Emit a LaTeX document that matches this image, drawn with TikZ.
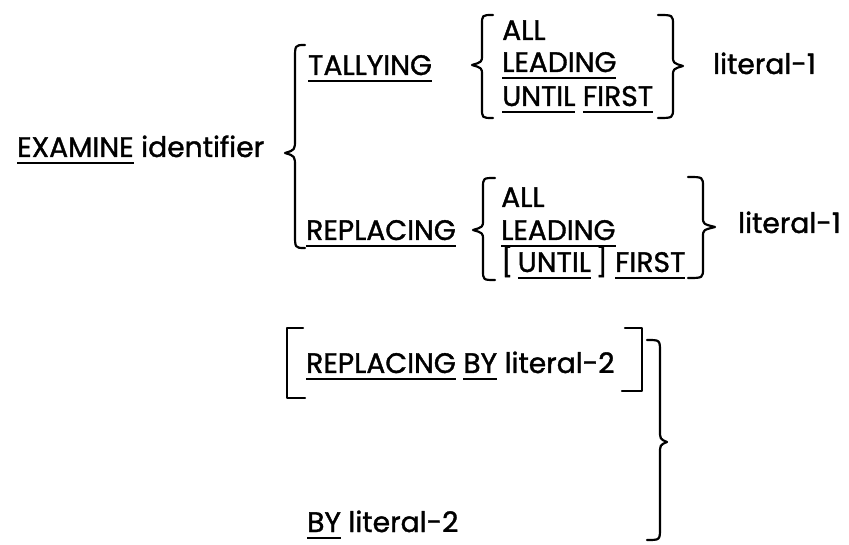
\documentclass[tikz,border=0pt]{standalone}
\usepackage{fontspec}
\setmainfont{Poppins}[FakeBold=1.3]
\newcommand\ulw[1]{\vtop{\hbox{#1}\kern5.2pt\hrule height 1.9pt}}
\tikzset{
  txt/.style={anchor=base west, inner sep=0pt, font=\fontsize{28.2}{32}\selectfont},
  brc/.style={line width=2.2pt, line cap=round, line join=round},
}
% #1 end x, #2 spine x, #3 tip x, #4 top y, #5 middle y, #6 bottom y, #7 bend
\newcommand\mybrace[7]{%
  \draw[brc] (#1,#4) .. controls (#2,#4) .. (#2,#4+#7)
    -- (#2,#5-#7) .. controls (#2,#5-3) .. (#3,#5)
    .. controls (#2,#5+3) .. (#2,#5+#7)
    -- (#2,#6-#7) .. controls (#2,#6) .. (#1,#6);}
\begin{document}
\begin{tikzpicture}[x=1pt,y=-1pt]
\useasboundingbox (0,0) rectangle (849,545);
\node[txt] (exa) at (17,157) {\ulw{EXAMINE} identifier};
\node[txt] (tal) at (308,75) {\ulw{TALLYING}};
\node[txt] (all1) at (502,40) {ALL};
\node[txt] (lead1) at (502,72) {\ulw{LEADING}};
\node[txt] (uf1) at (502,106) {\ulw{UNTIL} \ulw{FIRST}};
\node[txt] (lit1) at (713,74) {literal-1};
\node[txt] (rep) at (306,240) {\ulw{REPLACING}};
\node[txt] (all2) at (501,207) {ALL};
\node[txt] (lead2) at (501,240) {\ulw{LEADING}};
\node[txt] (uf2) at (501,272) {[\,\ulw{UNTIL}\,] \ulw{FIRST}};
\node[txt] (lit1b) at (738,233) {literal-1};
\node[txt] (rby) at (306,373) {\ulw{REPLACING} \ulw{BY} literal-2};
\node[txt] (by) at (307,532) {\ulw{BY} literal-2};
% braces
\mybrace{305}{295}{285}{45}{153}{248}{14}
\mybrace{493}{482}{472}{15}{65}{118}{10}
\mybrace{658}{673}{683}{15}{66}{118}{10}
\mybrace{495}{483}{473}{178}{230}{280}{10}
\mybrace{688}{703}{715}{177}{227}{278}{10}
\mybrace{647}{660}{667}{340}{442}{540}{12}
% brackets
\draw[brc] (303,328) -- (287,328) -- (287,398) -- (305,398);
\draw[brc] (625,328) -- (642,328) -- (642,391) -- (622,391);
\end{tikzpicture}
\end{document}
